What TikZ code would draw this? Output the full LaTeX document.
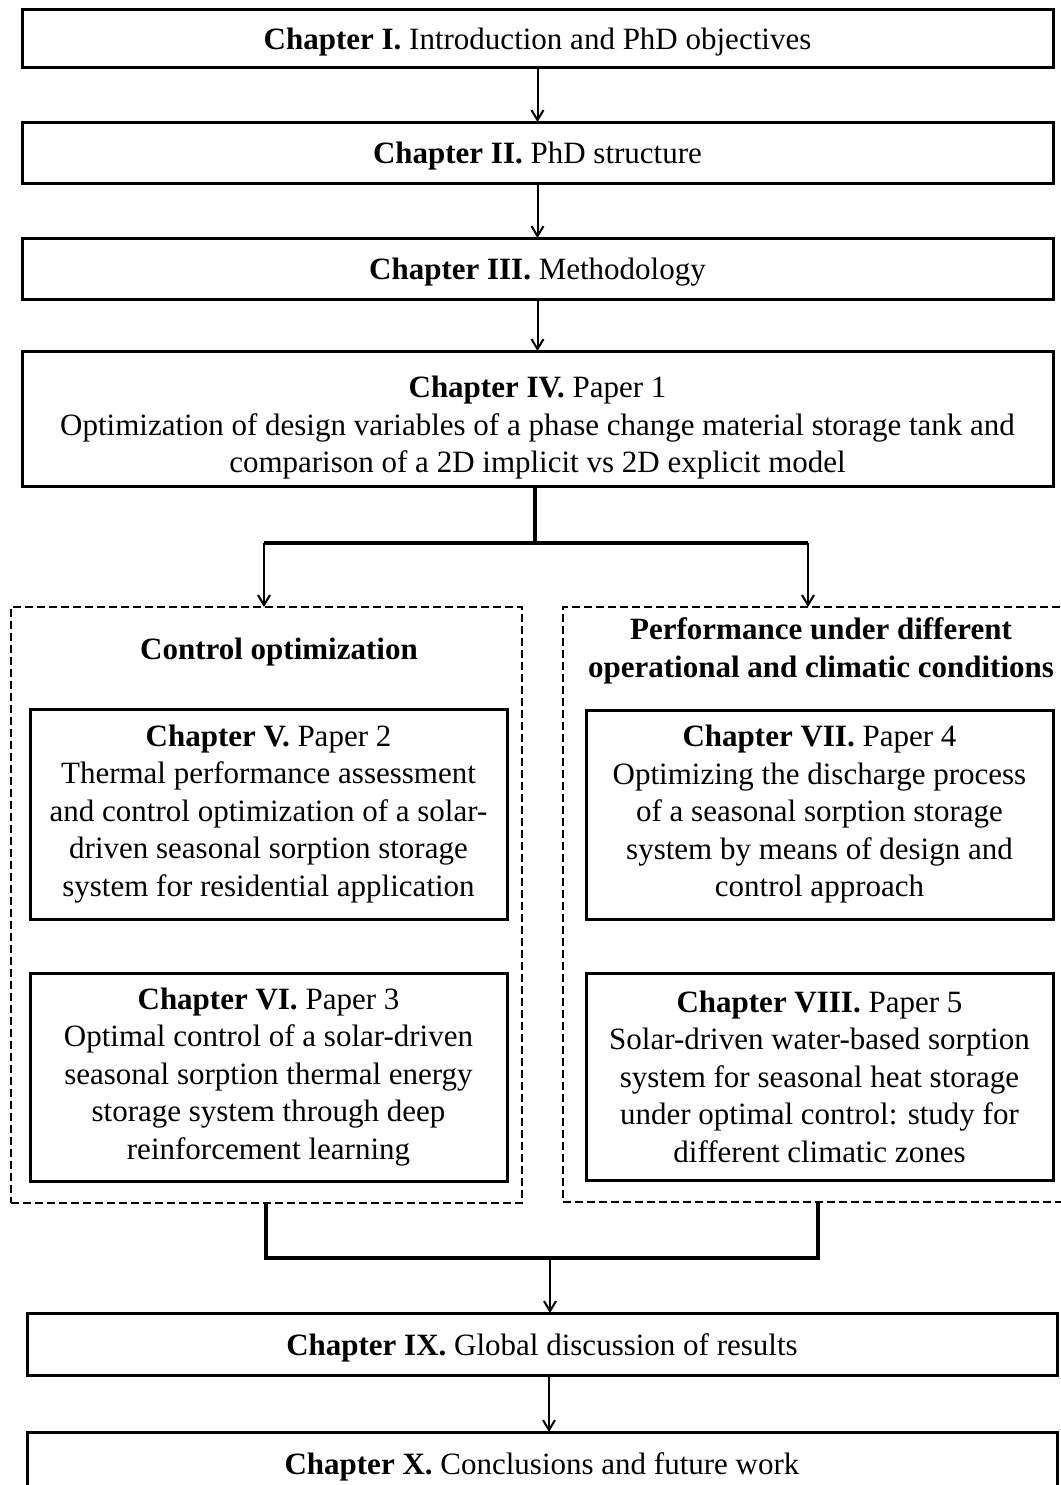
\documentclass[tikz,border=0pt]{standalone}
\usepackage{fontspec}
\setmainfont{Liberation Serif}
\usetikzlibrary{arrows.meta}
\begin{document}
\begin{tikzpicture}[x=0.5pt,y=-0.5pt,
  every node/.style={font=\fontsize{15.5pt}{18.75pt}\selectfont, inner sep=0pt, outer sep=0pt, align=center},
  chapbox/.style={draw, line width=1.5pt},
  oneline/.style={text height=11pt, text depth=0pt},
  groupbox/.style={draw, line width=1pt, dash pattern=on 4pt off 2pt},
  arr/.style={line width=1pt, -{Straight Barb[length=5pt,width=6pt]}},
  thicklink/.style={line width=1.8pt}]
\useasboundingbox (0,0) rectangle (1061,1485);
\clip (0,0) rectangle (1061,1485);
\fill[white] (0,0) rectangle (1061,1485);

\node[chapbox, oneline, minimum width=515.5pt, minimum height=29pt] (c1) at (537.5,38.5) {\textbf{Chapter I.} Introduction and PhD objectives};
\node[chapbox, oneline, minimum width=515.5pt, minimum height=30.5pt] (c2) at (537.5,152.5) {\textbf{Chapter II.} PhD structure};
\node[chapbox, oneline, minimum width=515.5pt, minimum height=30.5pt] (c3) at (537.5,268.5) {\textbf{Chapter III.} Methodology};
\node[chapbox, minimum width=515.5pt, minimum height=67.5pt] (c4) at (537.5,418.5) {\rule{0pt}{20pt}\textbf{Chapter IV.} Paper 1\\Optimization of design variables of a phase change material storage tank and\\comparison of a 2D implicit vs 2D explicit model};

\node[groupbox, minimum width=255.5pt, minimum height=298pt] (gl) at (266.5,905) {};
\node[groupbox, minimum width=251.5pt, minimum height=297.5pt] (gr) at (814.5,904.5) {};

\node (tl) at (279,652) {\textbf{Control optimization}};
\node (tr) at (821,651) {\textbf{Performance under different}\\\textbf{operational and climatic conditions}};

\node[chapbox, minimum width=238.5pt, minimum height=105pt] (c5) at (268.5,814) {\textbf{Chapter V.} Paper 2\\Thermal performance assessment\\and control optimization of a solar-\\driven seasonal sorption storage\\system for residential application};
\node[chapbox, minimum width=238.5pt, minimum height=104pt] (c6) at (268.5,1077) {\textbf{Chapter VI.} Paper 3\\Optimal control of a solar-driven\\seasonal sorption thermal energy\\storage system through deep\\reinforcement learning};
\node[chapbox, minimum width=233.5pt, minimum height=104.5pt] (c7) at (819.5,814.5) {\textbf{Chapter VII.} Paper 4\\Optimizing the discharge process\\of a seasonal sorption storage\\system by means of design and\\control approach};
\node[chapbox, minimum width=233.5pt, minimum height=103.5pt] (c8) at (819.5,1076.5) {\textbf{Chapter VIII.} Paper 5\\Solar-driven water-based sorption\\system for seasonal heat storage\\under optimal control: study for\\different climatic zones};

\node[chapbox, oneline, minimum width=515pt, minimum height=31pt] (c9) at (542,1344) {\textbf{Chapter IX.} Global discussion of results};
\node[chapbox, oneline, minimum width=515pt, minimum height=31pt] (c10) at (542,1463) {\textbf{Chapter X.} Conclusions and future work};

% top arrows
\draw[arr] (c1) -- (c2);
\draw[arr] (c2) -- (c3);
\draw[arr] (c3) -- (c4);

% split
\coordinate (jm) at (535,543);
\coordinate (jl) at (264,543);
\coordinate (jr) at (808,543);
\draw[thicklink] (c4.south -| jm) -- (jm);
\draw[thicklink] (jl) -- (jr);
\draw[arr] (jl) -- (jl |- gl.north);
\draw[arr] (jr) -- (jr |- gr.north);

% merge
\coordinate (bl) at (266,1258);
\coordinate (br) at (818,1258);
\coordinate (bm) at (550,1258);
\draw[thicklink] (gl.south -| bl) -- (bl) -- (br) -- (gr.south -| br);
\draw[arr] (bm) -- (bm |- c9.north);
\coordinate (bm2) at (549,1375);
\draw[arr] (c9.south -| bm2) -- (bm2 |- c10.north);
\end{tikzpicture}
\end{document}
